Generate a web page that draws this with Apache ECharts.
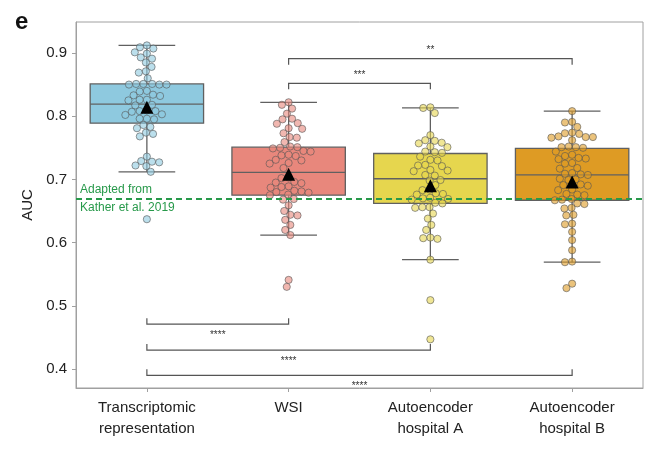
<!DOCTYPE html>
<html>
<head>
<meta charset="utf-8">
<script src="https://cdn.jsdelivr.net/npm/echarts@6/dist/echarts.min.js"></script>
<style>html,body{margin:0;padding:0;background:#fff;}#c{width:645px;height:449px;}</style>
</head>
<body>
<div id="c"></div>
<script>
const categories = ['Transcriptomic\nrepresentation', 'WSI', 'Autoencoder\nhospital A', 'Autoencoder\nhospital B'];
const yTicks = [0.4, 0.5, 0.6, 0.7, 0.8, 0.9];

const boxLow    = [0.712, 0.612, 0.573, 0.569];
const boxQ1     = [0.789, 0.675, 0.662, 0.667];
const boxMedian = [0.819, 0.711, 0.701, 0.707];
const boxQ3     = [0.851, 0.751, 0.741, 0.749];
const boxHigh   = [0.912, 0.822, 0.813, 0.808];
const meanAUC   = [0.814, 0.708, 0.690, 0.696];
const refAUC = 0.674;

const aucTranscriptomic = [0.912, 0.909, 0.907, 0.901, 0.899, 0.893, 0.891, 0.885, 0.878, 0.871, 0.869, 0.860,
  0.851, 0.851, 0.850, 0.850, 0.851, 0.850, 0.839, 0.840, 0.833, 0.832, 0.834, 0.826, 0.825, 0.826,
  0.818, 0.817, 0.808, 0.809, 0.807, 0.808, 0.803, 0.802, 0.796, 0.795, 0.796,
  0.786, 0.783, 0.781, 0.774, 0.772, 0.768, 0.736, 0.729, 0.728, 0.727, 0.722, 0.721, 0.712, 0.637];
const aucWSI = [0.822, 0.818, 0.812, 0.804, 0.796, 0.795, 0.789, 0.788, 0.781, 0.780, 0.773, 0.767, 0.766, 0.759,
  0.751, 0.752, 0.750, 0.749, 0.745, 0.744, 0.738, 0.739, 0.737, 0.731, 0.730, 0.725, 0.726, 0.718,
  0.703, 0.702, 0.696, 0.695, 0.694, 0.689, 0.688, 0.687, 0.681, 0.680, 0.679, 0.682,
  0.676, 0.675, 0.669, 0.668, 0.659, 0.650, 0.644, 0.643, 0.636, 0.628, 0.620, 0.612, 0.541, 0.530];
const aucHospitalA = [0.814, 0.813, 0.805, 0.770, 0.762, 0.761, 0.758, 0.757, 0.752, 0.751,
  0.744, 0.743, 0.742, 0.736, 0.731, 0.730, 0.723, 0.722, 0.721, 0.715, 0.714, 0.713, 0.707, 0.706,
  0.699, 0.698, 0.691, 0.684, 0.683, 0.678, 0.677, 0.676, 0.670, 0.671, 0.669, 0.668, 0.663, 0.662,
  0.656, 0.655, 0.656, 0.646, 0.638, 0.628, 0.620, 0.608, 0.607, 0.606, 0.573, 0.509, 0.447];
const aucHospitalB = [0.808, 0.791, 0.790, 0.783, 0.773, 0.772, 0.774, 0.767, 0.768, 0.766, 0.767, 0.762, 0.752, 0.751, 0.751, 0.750,
  0.744, 0.739, 0.737, 0.733, 0.732, 0.734, 0.725, 0.726, 0.717, 0.718, 0.709, 0.708, 0.707, 0.710,
  0.700, 0.701, 0.699, 0.691, 0.692, 0.690, 0.683, 0.684, 0.676, 0.677, 0.675, 0.669, 0.668, 0.667,
  0.662, 0.661, 0.654, 0.655, 0.644, 0.643, 0.629, 0.630, 0.617, 0.604, 0.588, 0.570, 0.569, 0.535, 0.528];
const groupValues = [aucTranscriptomic, aucWSI, aucHospitalA, aucHospitalB];

const bracketFrom  = [1, 1, 0, 0, 0];
const bracketTo    = [3, 2, 1, 2, 3];
const bracketAt    = [0.891, 0.852, 0.471, 0.430, 0.390];
const bracketLabel = ['**', '***', '****', '****', '****'];

const palette = ['#8ec9df', '#e8877c', '#e6d64e', '#de9b24'];

const chart = echarts.init(document.getElementById('c'), null, {renderer: 'canvas'});

const boxData = categories.map((c, i) => [i, boxLow[i], boxQ1[i], boxMedian[i], boxQ3[i], boxHigh[i]]);
const bracketData = bracketFrom.map((f, i) => [f, bracketTo[i], bracketAt[i], bracketLabel[i]]);

function pointsData(offsets) {
  const out = [];
  groupValues.forEach((vals, g) => vals.forEach((v, k) => out.push([g, v, offsets ? offsets[g][k] : 0])));
  return out;
}

const option = {
  animation: false,
  grid: {left: 76, right: 2, top: 22, bottom: 61, show: true, borderColor: '#a0a0a0', borderWidth: 1},
  graphic: [{type: 'text', left: 15, top: 10, style: {text: 'e', font: 'bold 24px "Liberation Sans", Arial, sans-serif', fill: '#111'}}],
  xAxis: {
    type: 'category', data: categories, boundaryGap: true,
    axisLine: {show: true, lineStyle: {color: '#a0a0a0'}},
    axisTick: {show: true, alignWithLabel: true, length: 4, lineStyle: {color: '#a0a0a0'}},
    axisLabel: {color: '#222', fontSize: 15, lineHeight: 21, margin: 9, fontFamily: '"Liberation Sans", Arial, sans-serif'}
  },
  yAxis: {
    type: 'value', min: 0.37, max: 0.949,
    name: 'AUC', nameLocation: 'middle', nameGap: 38,
    nameTextStyle: {color: '#222', fontSize: 15, fontFamily: '"Liberation Sans", Arial, sans-serif'},
    splitLine: {show: false},
    axisLine: {show: true, lineStyle: {color: '#a0a0a0'}},
    axisTick: {show: true, length: 4, customValues: yTicks, lineStyle: {color: '#a0a0a0'}},
    axisLabel: {customValues: yTicks, color: '#222', fontSize: 15, margin: 9,
      fontFamily: '"Liberation Sans", Arial, sans-serif', formatter: v => Number(v).toFixed(1)}
  },
  series: [
    {
      type: 'custom', name: 'box', data: boxData, encode: {x: 0, y: [1, 2, 3, 4, 5]}, z: 1,
      renderItem: function (params, api) {
        const i = api.value(0);
        const band = api.size([1, 0])[0];
        const bw = band * 0.8, cw = bw / 2;
        const pl = api.coord([i, api.value(1)]);
        const p1 = api.coord([i, api.value(2)]);
        const pm = api.coord([i, api.value(3)]);
        const p3 = api.coord([i, api.value(4)]);
        const ph = api.coord([i, api.value(5)]);
        const x = pm[0];
        const ls = {stroke: '#606060', lineWidth: 1.3};
        return {type: 'group', children: [
          {type: 'line', shape: {x1: x, y1: ph[1], x2: x, y2: p3[1]}, style: ls},
          {type: 'line', shape: {x1: x, y1: p1[1], x2: x, y2: pl[1]}, style: ls},
          {type: 'line', shape: {x1: x - cw / 2, y1: ph[1], x2: x + cw / 2, y2: ph[1]}, style: ls},
          {type: 'line', shape: {x1: x - cw / 2, y1: pl[1], x2: x + cw / 2, y2: pl[1]}, style: ls},
          {type: 'rect', shape: {x: x - bw / 2, y: p3[1], width: bw, height: p1[1] - p3[1]},
            style: {fill: palette[i], stroke: '#606060', lineWidth: 1.3}},
          {type: 'line', shape: {x1: x - bw / 2, y1: pm[1], x2: x + bw / 2, y2: pm[1]}, style: ls}
        ]};
      },
      markLine: {
        silent: true, symbol: 'none',
        lineStyle: {color: '#27994a', type: [6, 4], width: 2},
        data: [
          {yAxis: refAUC, label: {show: true, position: 'insideStartTop', formatter: 'Adapted from', color: '#27994a', fontSize: 12, distance: [4, 3], fontFamily: '"Liberation Sans", Arial, sans-serif'}},
          {yAxis: refAUC, label: {show: true, position: 'insideStartBottom', formatter: 'Kather et al. 2019', color: '#27994a', fontSize: 12, distance: [4, 3], fontFamily: '"Liberation Sans", Arial, sans-serif'}}
        ]
      }
    },
    {
      type: 'custom', name: 'points', data: pointsData(null), encode: {x: 0, y: 1}, z: 3,
      renderItem: function (params, api) {
        const g = api.value(0);
        const p = api.coord([g, api.value(1)]);
        return {type: 'circle', shape: {cx: p[0] + api.value(2), cy: p[1], r: 3.6},
          style: {fill: palette[g], stroke: '#555', lineWidth: 1, opacity: 0.6}};
      }
    },
    {
      type: 'scatter', name: 'mean', data: meanAUC.map((m, i) => [i, m]), z: 5,
      symbol: 'triangle', symbolSize: 13, itemStyle: {color: '#000', opacity: 1}
    },
    {
      type: 'custom', name: 'brackets', data: bracketData, encode: {x: [0, 1], y: 2}, z: 4,
      renderItem: function (params, api) {
        const a = api.coord([api.value(0), api.value(2)]);
        const b = api.coord([api.value(1), api.value(2)]);
        const above = api.value(2) > 0.6;
        const t = above ? 6 : -6;
        const lab = bracketLabel[params.dataIndex];
        return {type: 'group', children: [
          {type: 'polyline', shape: {points: [[a[0], a[1] + t], a, b, [b[0], b[1] + t]]},
            style: {stroke: '#555', lineWidth: 1.2, fill: null}},
          {type: 'text', style: {text: lab, x: (a[0] + b[0]) / 2, y: above ? a[1] - 8 : a[1] + 11,
            align: 'center', verticalAlign: 'middle', fill: '#333', font: '10px "Liberation Sans", Arial, sans-serif'}}
        ]};
      }
    }
  ]
};
chart.setOption(option);

function swarm(ys, d) {
  const order = ys.map((y, i) => i).sort((p, q) => ys[p] - ys[q]);
  const placed = [];
  const xs = new Array(ys.length);
  for (const i of order) {
    const y = ys[i];
    const nb = placed.filter(p => Math.abs(p.y - y) < d);
    const cands = [0];
    nb.forEach(p => {
      const dx = Math.sqrt(d * d - (p.y - y) * (p.y - y));
      cands.push(p.x + dx, p.x - dx);
    });
    cands.sort((u, v) => Math.abs(u) - Math.abs(v) || u - v);
    let chosen = 0;
    for (const c of cands) {
      if (nb.every(p => (p.x - c) * (p.x - c) + (p.y - y) * (p.y - y) >= d * d - 1e-6)) { chosen = c; break; }
    }
    placed.push({x: chosen, y: y});
    xs[i] = chosen;
  }
  return xs;
}

const offsets = groupValues.map(vals => swarm(vals.map(v => chart.convertToPixel({yAxisIndex: 0}, v)), 7.2));
chart.setOption({series: [{name: 'box'}, {name: 'points', data: pointsData(offsets)}]});
</script>
</body>
</html>
